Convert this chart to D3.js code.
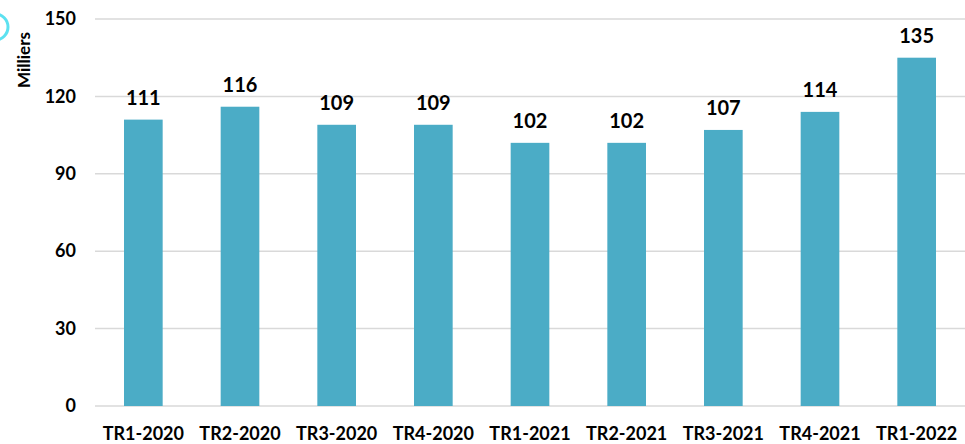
<!DOCTYPE html>
<html>
<head>
<meta charset="utf-8">
<title>Milliers par trimestre</title>
<script src="https://d3js.org/d3.v7.min.js"></script>
<style>
  body { margin: 0; background: #fff; }
  svg { display: block; font-family: Lato, "Open Sans", sans-serif; }
</style>
</head>
<body>
<div id="chart"></div>
<script>
const categories = ["TR1-2020", "TR2-2020", "TR3-2020", "TR4-2020", "TR1-2021", "TR2-2021", "TR3-2021", "TR4-2021", "TR1-2022"];
const values = [111, 116, 109, 109, 102, 102, 107, 114, 135];
const yTicks = [0, 30, 60, 90, 120, 150];

const width = 965, height = 444;
const margin = { top: 19, right: 0, bottom: 38, left: 95 };

const svg = d3.select("#chart").append("svg")
  .attr("width", width)
  .attr("height", height);

// decorative circle at top left
svg.append("circle")
  .attr("cx", -5).attr("cy", 27).attr("r", 13)
  .attr("fill", "none").attr("stroke", "#5ce1f0").attr("stroke-width", 3);

const x = d3.scaleBand()
  .domain(categories)
  .range([margin.left, width - margin.right])
  .paddingInner(0.6)
  .paddingOuter(0.3);

const y = d3.scaleLinear()
  .domain([0, 150])
  .range([height - margin.bottom, margin.top]);

// gridlines
svg.append("g")
  .selectAll("line")
  .data(yTicks)
  .join("line")
  .attr("x1", margin.left)
  .attr("x2", width - margin.right)
  .attr("y1", d => y(d))
  .attr("y2", d => y(d))
  .attr("stroke", "#d9d9d9")
  .attr("stroke-width", 1.5);

// y axis labels
const yAxis = svg.append("g")
  .attr("transform", `translate(${margin.left - 19},0)`)
  .call(d3.axisLeft(y).tickValues(yTicks).tickSize(0).tickPadding(0));
yAxis.select(".domain").remove();
yAxis.selectAll("text")
  .attr("font-family", "Lato, 'Open Sans', sans-serif")
  .attr("font-size", 18)
  .attr("font-weight", "bold")
  .attr("fill", "#000");

svg.append("text")
  .attr("transform", "translate(30,60) rotate(-90)")
  .attr("text-anchor", "middle")
  .attr("font-size", 17)
  .attr("font-weight", "bold")
  .text("Milliers");

// bars
svg.append("g")
  .selectAll("rect")
  .data(values)
  .join("rect")
  .attr("x", (d, i) => x(categories[i]))
  .attr("width", x.bandwidth())
  .attr("y", d => y(d))
  .attr("height", d => y(0) - y(d))
  .attr("fill", "#4bacc6");

// value labels
svg.append("g")
  .selectAll("text")
  .data(values)
  .join("text")
  .attr("x", (d, i) => x(categories[i]) + x.bandwidth() / 2)
  .attr("y", d => y(d) - 15)
  .attr("text-anchor", "middle")
  .attr("font-size", 20)
  .attr("font-weight", "bold")
  .text(d => d);

// x axis
const xAxis = svg.append("g")
  .attr("transform", `translate(0,${height - margin.bottom})`)
  .call(d3.axisBottom(x).tickSize(0).tickPadding(21));
xAxis.select(".domain").remove();
xAxis.selectAll("text")
  .attr("font-family", "Lato, 'Open Sans', sans-serif")
  .attr("font-size", 18)
  .attr("font-weight", "bold")
  .attr("fill", "#000");
</script>
</body>
</html>
